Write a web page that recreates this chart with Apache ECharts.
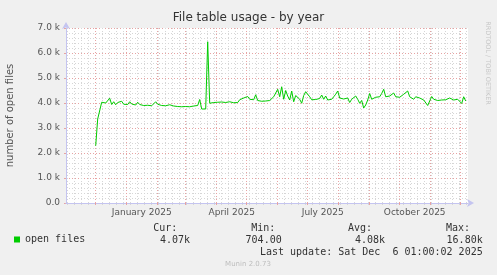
<!DOCTYPE html>
<html>
<head>
<meta charset="utf-8">
<script src="https://cdn.jsdelivr.net/npm/echarts@6/dist/echarts.min.js"></script>
<style>
html,body{margin:0;padding:0;background:#f0f0f0;}
#c{width:497px;height:275px;}
</style>
</head>
<body>
<div id="c"></div>
<script>
// ---- data (2-day samples starting 2024-12-01) ----
const seriesName = 'open files';
const sampleStart = '2024-12-01';
const sampleStepDays = 2;
const openFiles = [
  2290,3360,3350,4030,3980,4000,3950,4190,3940,4050,3930,4020,3960,4070,3950,4010,
  3940,4050,3960,3990,3920,4030,3940,3960,3900,3950,
  3910,3930,3890,3970,4050,3950,3930,3900,3940,3890,
  3870,3930,3990,3880,3910,3860,3890,3850,3830,3860,
  3820,3850,3840,3880,3870,3900,4140,3760,3800,3760,
  6450,3990,4000,4020,3980,4030,4000,4040,3970,4020,
  3990,4050,3980,4010,4000,4020,4130,4090,4200,4120,4260,
  4150,4180,4130,4330,4100,4120,4070,4110,4080,4130,
  4100,4180,4250,4400,4550,4250,4650,4150,4500,4280,
  4120,4480,4050,4300,4380,4150,3990,4300,4450,4480,
  4250,4130,4110,4140,4120,4180,4320,4150,4280,4120,
  4200,4150,4250,4350,4480,4200,4120,4160,4130,4200,
  4020,4150,4120,4280,4150,3990,4100,3800,3920,4120,
  4380,4150,4130,4230,4150,4250,4380,4550,4250,4330,
  4280,4250,4400,4250,4300,4230,4280,4350,4300,4480,
  4250,4200,4150,4250,4320,4200,4150,4120,4100,3900,
  3950,4260,4150,4080,4100,4170,4120,4180,4130,4100,
  4200,4260,4120,4050,4150,4100,3980,4250,4080
];
const xLabelNames = ['January 2025','April 2025','July 2025','October 2025'];
const xLabelDates = ['2025-01-16','2025-04-16','2025-07-16','2025-10-16'];
const yMax = 7000, yStep = 1000;
const statHeaders = ['Cur:','Min:','Avg:','Max:'];
const statValues = ['4.07k','704.00','4.08k','16.80k'];
const lastUpdate = 'Last update: Sat Dec  6 01:00:02 2025';
const titleText = 'File table usage - by year';
const yName = 'number of open files';

// ---- layout / build ----
const DAY = 86400000;
const toMs = s => Date.parse(s + 'T00:00:00Z');
const jan1 = toMs('2025-01-01');
const xMin = jan1 - 60.7 * DAY;
const xMax = xMin + 402 * DAY;
const t0 = toMs(sampleStart);
const lineData = openFiles.map((v, i) => [t0 + i * sampleStepDays * DAY, v]);

const monthStarts = [];
for (let i = 0; i < 15; i++) { const t = Date.UTC(2024, 10 + i, 1); if (t >= xMin && t <= xMax) monthStarts.push(t); }
const weekStarts = [];
for (let t = toMs('2024-11-03'); t <= xMax; t += 7 * DAY) weekStarts.push(t);
const labelTs = xLabelDates.map(toMs);

const RED = '#e7a3a3', GRAY = '#d6d6d6', AXIS = '#c4c4f0', TXT = '#555';
const FONT = '"DejaVu Sans", sans-serif';
const MONO = '"DejaVu Sans Mono", monospace';

const chart = echarts.init(document.getElementById('c'), null, {renderer: 'canvas'});
const headerRight = [177.3, 275.3, 372, 470];
const valueRight = [190, 281.7, 385, 482.7];
const graphics = [];
statHeaders.forEach((h, i) => graphics.push({type:'text', x: headerRight[i], y: 228.5,
  style:{text:h, align:'right', verticalAlign:'middle', font:'10px ' + MONO, fill:'#333'}}));
statValues.forEach((h, i) => graphics.push({type:'text', x: valueRight[i], y: 240,
  style:{text:h, align:'right', verticalAlign:'middle', font:'10px ' + MONO, fill:'#333'}}));
graphics.push({type:'text', x: 482.7, y: 252,
  style:{text:lastUpdate, align:'right', verticalAlign:'middle', font:'10px ' + MONO, fill:'#333'}});
graphics.push({type:'text', x: 248, y: 264.5,
  style:{text:'Munin 2.0.73', align:'center', verticalAlign:'middle', font:'7px ' + FONT, fill:'#bdbdbd'}});
graphics.push({type:'text', x: 488, y: 63, rotation: -Math.PI / 2,
  style:{text:'RRDTOOL / TOBI OETIKER', align:'center', verticalAlign:'middle', font:'6.5px ' + FONT, fill:'#c8c8c8'}});

chart.setOption({
  animation: false,
  backgroundColor: '#f0f0f0',
  title: {text: titleText, left: 'center', top: 12, padding: 0,
    textStyle: {fontFamily: FONT, fontSize: 12, fontWeight: 'normal', color: '#333'}},
  grid: {left: 66, right: 29, top: 28, bottom: 72, show: true, backgroundColor: '#ffffff', borderWidth: 0,
    containLabel: false, outerBoundsMode: 'none'},
  legend: {data: [seriesName], left: 14, top: 234.5, padding: 0, icon: 'rect', itemWidth: 6, itemHeight: 6,
    textStyle: {fontFamily: MONO, fontSize: 10, color: '#333'}},
  graphic: graphics,
  xAxis: [
    {type: 'value', min: xMin, max: xMax, position: 'bottom',
      axisLine: {show: true, lineStyle: {color: AXIS, width: 1}, symbol: ['none', 'arrow'], symbolSize: [6, 7], symbolOffset: [0, 6]},
      axisTick: {show: true, customValues: monthStarts, length: 2, lineStyle: {color: RED}},
      axisLabel: {show: true, customValues: labelTs, margin: 5, fontFamily: FONT, fontSize: 9, color: TXT,
        formatter: v => { const k = labelTs.indexOf(v); return k >= 0 ? xLabelNames[k] : ''; }},
      splitLine: {show: true, lineStyle: {color: RED, type: [1, 2], width: 1}},
      z: 2},
    {type: 'value', min: xMin, max: xMax, position: 'bottom',
      axisLine: {show: false},
      axisTick: {show: true, customValues: weekStarts, length: 2, lineStyle: {color: GRAY}},
      axisLabel: {show: false},
      splitLine: {show: true, lineStyle: {color: GRAY, type: [1, 2], width: 1}},
      z: 1}
  ],
  yAxis: {type: 'value', min: 0, max: yMax, interval: yStep,
    name: yName, nameLocation: 'middle', nameGap: 51,
    nameTextStyle: {fontFamily: FONT, fontSize: 10, color: TXT},
    axisLine: {show: true, lineStyle: {color: AXIS, width: 1}, symbol: ['none', 'arrow'], symbolSize: [6, 7], symbolOffset: [0, 6]},
    axisTick: {show: true, length: 2, lineStyle: {color: RED}},
    minorTick: {show: false, splitNumber: 5},
    minorSplitLine: {show: true, lineStyle: {color: GRAY, type: [1, 2], width: 1}},
    splitLine: {show: true, lineStyle: {color: RED, type: [1, 2], width: 1}},
    axisLabel: {margin: 6, fontFamily: FONT, fontSize: 9, color: TXT,
      formatter: v => v === 0 ? '0.0' : (v / 1000).toFixed(1) + ' k'}},
  series: [{name: seriesName, type: 'line', xAxisIndex: 0, data: lineData, showSymbol: false,
    itemStyle: {color: '#00cc00'}, lineStyle: {color: '#00cc00', width: 1}, z: 5}]
});
</script>
</body>
</html>
